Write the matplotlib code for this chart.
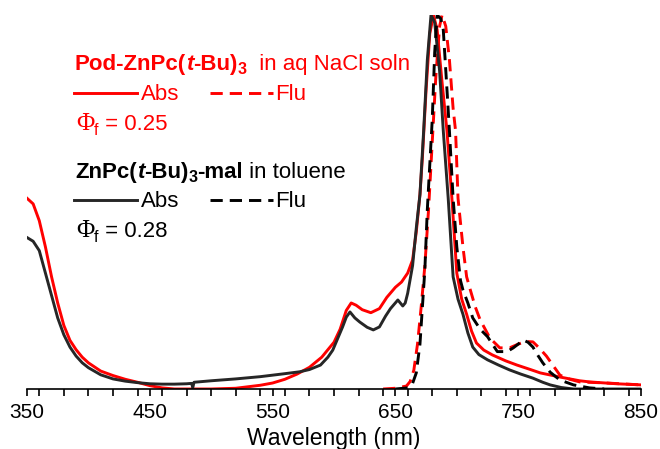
# -*- coding: utf-8 -*-
'''
normalized absorption / fluorescence spectra
Pod-ZnPc(t-Bu)3 in aq NaCl vs ZnPc(t-Bu)3-mal in toluene
'''
import numpy as np
import matplotlib
matplotlib.use("Agg")
import matplotlib.pyplot as plt
from matplotlib.lines import Line2D
from matplotlib.ticker import MultipleLocator

plt.rcParams['font.family'] = ['Liberation Sans', 'DejaVu Sans']

RED = '#ff0000'
BLACK = '#262626'

# ---- data (normalized intensity) ----
red_abs_nm = [350, 355, 360, 365, 370, 375, 380, 385, 390, 395, 400, 410, 420,
              430, 440, 450, 460, 470, 500, 520, 540, 550, 560, 570, 580, 590,
              600, 605, 610, 614, 618, 623, 630, 637, 643, 650, 655, 660, 664,
              667, 670, 672, 675, 678, 681, 684, 688, 692, 696, 700, 704, 708,
              712, 716, 722, 729, 740, 749, 760, 768, 784, 800, 808, 830, 850]
red_abs = [0.51, 0.495, 0.45, 0.38, 0.30, 0.23, 0.17, 0.13, 0.105, 0.085, 0.07,
           0.048, 0.036, 0.026, 0.018, 0.009, 0.003, 0.0, 0.0, 0.002, 0.01,
           0.016, 0.026, 0.04, 0.058, 0.085, 0.125, 0.16, 0.21, 0.23, 0.224,
           0.212, 0.204, 0.215, 0.245, 0.272, 0.286, 0.31, 0.345, 0.42, 0.52,
           0.62, 0.80, 0.95, 1.0, 0.96, 0.82, 0.69, 0.51, 0.31, 0.24, 0.20,
           0.155, 0.123, 0.104, 0.091, 0.075, 0.064, 0.052, 0.043, 0.032,
           0.022, 0.019, 0.014, 0.011]

blk_abs_nm = [350, 355, 360, 365, 370, 375, 380, 385, 390, 395, 400, 410, 420,
              430, 440, 450, 460, 470, 480, 484, 485, 486, 500, 520, 540, 550,
              560, 572, 580, 589, 595, 599, 603, 607, 610, 613, 617, 621, 627,
              632, 637, 642, 646, 652, 656, 658, 660, 664, 667, 670, 673, 676,
              679, 682, 686, 689, 693, 697, 701, 705, 709, 713, 718, 725, 734,
              743, 752, 762, 770, 776, 785, 795, 850]
blk_abs = [0.405, 0.395, 0.37, 0.31, 0.25, 0.19, 0.145, 0.112, 0.088, 0.07,
           0.057, 0.038, 0.027, 0.021, 0.017, 0.014, 0.013, 0.013, 0.014,
           0.015, 0.004, 0.018, 0.022, 0.027, 0.033, 0.037, 0.041, 0.046,
           0.052, 0.064, 0.085, 0.104, 0.135, 0.166, 0.192, 0.206, 0.19,
           0.179, 0.165, 0.158, 0.166, 0.195, 0.215, 0.238, 0.222, 0.23,
           0.256, 0.33, 0.43, 0.52, 0.69, 0.88, 1.0, 0.98, 0.85, 0.69, 0.51,
           0.30, 0.24, 0.20, 0.15, 0.112, 0.092, 0.078, 0.064, 0.051, 0.04,
           0.029, 0.018, 0.011, 0.004, 0.0, 0.0]

red_flu_nm = [640, 650, 656, 659, 662, 665, 668, 671, 674, 677, 680, 683, 686,
              688, 691, 694, 697, 699, 701, 705, 708, 711, 715, 719, 727, 735,
              743, 750, 756, 762, 767, 773, 779, 784, 792, 800, 822, 850]
red_flu = [0.0, 0.002, 0.006, 0.008, 0.02, 0.05, 0.12, 0.22, 0.33, 0.48, 0.66,
           0.84, 0.97, 1.0, 0.97, 0.88, 0.75, 0.69, 0.51, 0.38, 0.30, 0.265,
           0.22, 0.185, 0.136, 0.11, 0.11, 0.12, 0.127, 0.126, 0.11, 0.088,
           0.06, 0.037, 0.026, 0.019, 0.016, 0.011]

blk_flu_nm = [650, 660, 664, 667, 670, 672, 674, 676, 678, 680, 682, 684, 687,
              689, 692, 694, 697, 700, 703, 705, 709, 713, 719, 725, 733, 741,
              746, 750, 754, 758, 762, 766, 770, 776, 784, 795, 808, 820]
blk_flu = [0.0, 0.003, 0.015, 0.043, 0.12, 0.22, 0.32, 0.48, 0.60, 0.72, 0.90,
           1.0, 0.99, 0.96, 0.80, 0.69, 0.51, 0.38, 0.29, 0.265, 0.23, 0.19,
           0.16, 0.14, 0.10, 0.10, 0.11, 0.12, 0.131, 0.125, 0.112, 0.09,
           0.07, 0.045, 0.024, 0.011, 0.003, 0.0]

xticks = [350, 450, 550, 650, 750, 850]

# ---- figure ----
W, H = 660, 449
fig = plt.figure(figsize=(W / 100, H / 100), dpi=100)
ax = fig.add_axes([27 / W, 60 / H, 614 / W, 374 / H])

LW = 2.1
DASH = (4.2, 2.4)
ax.plot(red_abs_nm, red_abs, color=RED, lw=LW)
ax.plot(red_flu_nm, red_flu, color=RED, lw=LW, ls='--', dashes=DASH)
ax.plot(blk_abs_nm, blk_abs, color=BLACK, lw=LW)
ax.plot(blk_flu_nm, blk_flu, color='black', lw=LW, ls='--', dashes=DASH)

ax.set_xlim(350, 850)
ax.set_ylim(0, 1.0)
for s in ['left', 'right', 'top']:
    ax.spines[s].set_visible(False)
ax.spines['bottom'].set_linewidth(1.2)
ax.set_yticks([])
ax.set_xticks(xticks)
ax.xaxis.set_minor_locator(MultipleLocator(20))
ax.tick_params(axis='x', which='both', direction='out', length=5, width=1.2,
               labelsize=15, pad=5)
ax.set_xlabel('Wavelength (nm)', fontsize=16.5, labelpad=4)


# ---- hand-made legend ----
def rich(x, y, pieces, color):
    # pieces: (text, fontsize, weight, style, family, dy) chained left to right
    prev = None
    for s, fs, wt, st, fam, dy in pieces:
        kw = dict(fontsize=fs, fontweight=wt, fontstyle=st, color=color,
                  va='baseline', ha='left')
        if fam:
            kw['family'] = fam
        if prev is None:
            t = ax.annotate(s, xy=(x, H - y + dy), xycoords='figure pixels', **kw)
        else:
            t = ax.annotate(s, xy=(1, H - y + dy),
                            xycoords=(prev, 'figure pixels'), **kw)
        prev = t


FS = 16
SUB = 11.5
SERIF = ['Liberation Serif', 'DejaVu Serif']

rich(75, 70, [('Pod-ZnPc(', FS, 'bold', 'normal', None, 0),
              ('t', FS, 'bold', 'italic', None, 0),
              ('-Bu)', FS, 'bold', 'normal', None, 0),
              ('3', SUB, 'bold', 'normal', None, -4),
              ('  in aq NaCl soln', FS, 'normal', 'normal', None, 0)], RED)
rich(75, 178, [('ZnPc(', FS, 'bold', 'normal', None, 0),
               ('t', FS, 'bold', 'italic', None, 0),
               ('-Bu)', FS, 'bold', 'normal', None, 0),
               ('3', SUB, 'bold', 'normal', None, -4),
               ('-mal', FS, 'bold', 'normal', None, 0),
               (' in toluene', FS, 'normal', 'normal', None, 0)], 'black')

for ytxt, yline, col, lcol, phi in [(100, 93, RED, RED, '0.25'),
                                     (207, 200, 'black', BLACK, '0.28')]:
    fig.add_artist(Line2D([74 / W, 137 / W], [1 - yline / H, 1 - yline / H],
                          transform=fig.transFigure, color=lcol, lw=LW))
    fig.add_artist(Line2D([210 / W, 273 / W], [1 - yline / H, 1 - yline / H],
                          transform=fig.transFigure, color=col, lw=LW,
                          ls='--', dashes=DASH))
    rich(141, ytxt, [('Abs', FS, 'normal', 'normal', None, 0)], col)
    rich(275, ytxt, [('Flu', FS, 'normal', 'normal', None, 0)], col)
    rich(76, ytxt + 30, [('\u03a6', 18, 'normal', 'normal', SERIF, 0),
                         ('f', SUB, 'normal', 'normal', None, -5),
                         (' = ' + phi, FS, 'normal', 'normal', None, 0)], col)

fig.savefig('out.png', dpi=100)
